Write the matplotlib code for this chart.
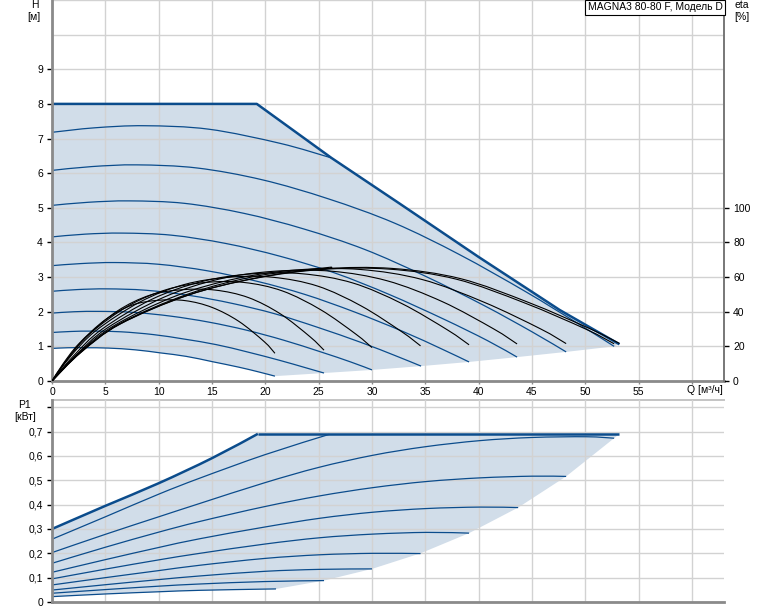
import matplotlib
matplotlib.use("Agg")
from matplotlib import pyplot as plt
from matplotlib.path import Path
from matplotlib.patches import PathPatch

plt.rcParams["font.family"] = ["Liberation Sans", "DejaVu Sans"]
plt.rcParams["font.size"] = 7.5

FIG_W, FIG_H = 774, 611  # pixels

BLUE = "#0b4c8c"
FILL = "#d1dde9"
GRID = "#d2d2d2"
SPINE = "#8a8a8a"

# ---------------- data ----------------
# Q-H: maximum curve (flat at 8 m, then power limit)
max_Q = [0, 19.2, 26.2, 32.6, 40.0, 47.6, 53.2]
max_H = [8.0, 8.0, 6.44, 5.12, 3.58, 2.05, 1.06]

# Q-H: constant speed curves, top to bottom
speed_Q = [
    [0, 4.0, 8.7, 14.7, 21.4, 26.2],
    [0, 3.7, 8.0, 13.6, 19.7, 25.9, 32.1, 38.2, 44.4, 49.3, 52.7],
    [0, 3.4, 7.3, 12.4, 18.0, 23.6, 29.3, 34.9, 40.5, 45.0, 48.2],
    [0, 3.1, 6.6, 11.2, 16.3, 21.4, 26.5, 31.6, 36.7, 40.8, 43.6],
    [0, 2.7, 5.9, 10.0, 14.6, 19.2, 23.7, 28.3, 32.9, 36.5, 39.1],
    [0, 2.4, 5.2, 8.8, 12.9, 16.9, 20.9, 24.9, 29.0, 32.2, 34.6],
    [0, 2.1, 4.55, 7.7, 11.2, 14.7, 18.2, 21.7, 25.2, 28.0, 30.0],
    [0, 1.8, 3.8, 6.5, 9.5, 12.4, 15.4, 18.3, 21.3, 23.7, 25.5],
    [0, 1.5, 3.2, 5.3, 7.8, 10.2, 12.6, 15.0, 17.5, 19.4, 20.9],
]
speed_H = [
    [7.18, 7.31, 7.37, 7.27, 6.86, 6.44],
    [6.08, 6.19, 6.24, 6.15, 5.81, 5.26, 4.56, 3.65, 2.58, 1.66, 1.0],
    [5.07, 5.16, 5.20, 5.13, 4.84, 4.39, 3.80, 3.04, 2.18, 1.42, 0.84],
    [4.16, 4.24, 4.27, 4.21, 3.97, 3.60, 3.12, 2.50, 1.79, 1.17, 0.69],
    [3.33, 3.39, 3.42, 3.37, 3.18, 2.88, 2.50, 2.00, 1.43, 0.93, 0.55],
    [2.59, 2.64, 2.66, 2.62, 2.47, 2.24, 1.94, 1.55, 1.11, 0.73, 0.43],
    [1.96, 2.00, 2.01, 1.98, 1.87, 1.70, 1.47, 1.18, 0.84, 0.55, 0.32],
    [1.40, 1.43, 1.44, 1.42, 1.34, 1.21, 1.05, 0.84, 0.60, 0.39, 0.23],
    [0.94, 0.96, 0.96, 0.95, 0.90, 0.81, 0.71, 0.56, 0.40, 0.26, 0.14],
]

# Q-H: lower edge of the operating area (ends of the speed curves)
low_Q = [20.9, 25.5, 30.0, 34.6, 39.1, 43.6, 48.2, 52.7, 53.2]
low_H = [0.14, 0.23, 0.32, 0.43, 0.55, 0.69, 0.84, 1.0, 1.06]

# efficiency curves [%]
eta_Q = [
    [0, 2.7, 6.4, 12.8, 19.2, 25.5, 31.9, 38.3, 44.7, 50.5, 53.2],
    [0, 2.7, 6.4, 12.8, 19.2, 25.5, 26.2],
    [0, 2.6, 6.3, 12.6, 19.0, 25.3, 31.6, 37.9, 44.3, 50.1, 52.7],
    [0, 2.4, 5.8, 11.6, 17.4, 23.1, 28.9, 34.7, 40.5, 45.8, 48.2],
    [0, 2.2, 5.2, 10.5, 15.7, 20.9, 26.2, 31.4, 36.6, 41.4, 43.6],
    [0, 2.0, 4.7, 9.4, 14.1, 18.8, 23.5, 28.2, 32.8, 37.1, 39.1],
    [0, 1.7, 4.1, 8.3, 12.4, 16.6, 20.7, 24.9, 29.0, 32.8, 34.55],
    [0, 1.5, 3.6, 7.2, 10.8, 14.4, 18.0, 21.6, 25.2, 28.5, 30.0],
    [0, 1.3, 3.1, 6.1, 9.2, 12.2, 15.3, 18.4, 21.4, 24.2, 25.5],
    [0, 1.0, 2.5, 5.0, 7.5, 10.0, 12.5, 15.0, 17.5, 19.9, 20.9],
]
eta_E = [
    [0, 16.4, 32.9, 49.6, 59.6, 64.8, 65.0, 59.1, 45.3, 30.0, 21.7],
    [0, 16.6, 33.3, 50.3, 60.6, 65.3, 65.5],
    [0, 16.3, 32.7, 49.3, 59.2, 64.4, 64.6, 58.8, 45.1, 29.8, 21.5],
    [0, 15.6, 31.9, 49.1, 59.3, 64.2, 64.4, 58.6, 45.5, 30.1, 21.6],
    [0, 14.7, 30.7, 48.4, 58.9, 63.4, 63.4, 57.9, 45.8, 30.1, 21.4],
    [0, 14.4, 30.0, 47.3, 57.5, 61.9, 61.9, 56.6, 44.7, 29.4, 20.9],
    [0, 13.9, 29.0, 45.8, 55.7, 59.9, 59.9, 54.8, 43.3, 28.4, 20.3],
    [0, 13.2, 27.6, 43.5, 52.9, 56.9, 56.9, 52.0, 41.1, 27.0, 19.3],
    [0, 11.4, 24.8, 40.3, 49.6, 52.7, 52.5, 48.2, 38.8, 25.5, 17.8],
    [0, 9.6, 21.4, 35.4, 43.8, 46.6, 46.4, 42.5, 34.5, 22.7, 16.0],
]

# Q-P1: maximum curve (rising part, then flat power limit)
pmax_Q = [0, 5, 10, 15, 19.3]
pmax_P = [0.300, 0.395, 0.488, 0.591, 0.691]
plim_Q = [19.3, 53.2]
plim_P = [0.691, 0.691]

# Q-P1: constant speed curves, top to bottom
power_Q = [
    [0, 5, 10, 13.86, 19.94, 26.0],
    [0, 5, 10, 13.86, 19.94, 25, 30.1, 35, 40.1, 45, 50.1, 52.7],
    [0, 5, 10, 13.86, 19.94, 25.1, 30.1, 35.1, 40.1, 45, 48.2],
    [0, 5, 10, 13.86, 19.94, 25.1, 30.1, 35.1, 40.1, 43.7],
    [0, 5, 10, 13.86, 19.94, 25.1, 30.1, 35.1, 39.1],
    [0, 5, 10, 13.86, 19.94, 25.1, 30.1, 34.55],
    [0, 5, 10, 13.86, 19.94, 25, 30],
    [0, 5, 10, 13.86, 19.94, 25.5],
    [0, 5, 10, 13.86, 19.94, 21.0],
]
power_P = [
    [0.258, 0.350, 0.443, 0.509, 0.605, 0.689],
    [0.203, 0.278, 0.35, 0.405, 0.49, 0.553, 0.603, 0.638, 0.663, 0.676, 0.679, 0.673],
    [0.159, 0.225, 0.287, 0.331, 0.392, 0.436, 0.47, 0.495, 0.51, 0.517, 0.516],
    [0.122, 0.174, 0.224, 0.26, 0.308, 0.344, 0.369, 0.384, 0.39, 0.388],
    [0.095, 0.135, 0.173, 0.2, 0.238, 0.264, 0.279, 0.286, 0.283],
    [0.070, 0.1, 0.129, 0.151, 0.179, 0.194, 0.2, 0.199],
    [0.049, 0.071, 0.092, 0.107, 0.126, 0.134, 0.136],
    [0.036, 0.051, 0.065, 0.074, 0.084, 0.088],
    [0.022, 0.033, 0.042, 0.048, 0.053, 0.0535],
]

# Q-P1: lower edge of the operating area
plow_Q = [21.0, 25.5, 30.0, 34.55, 39.1, 43.7, 48.2, 52.7, 53.2]
plow_P = [0.0535, 0.088, 0.136, 0.20, 0.283, 0.388, 0.516, 0.673, 0.691]

q_ticks = list(range(0, 61, 5))
q_labels = [str(v) for v in range(0, 56, 5)] + [""]
h_ticks = list(range(0, 10))
eta_ticks = [0, 20, 40, 60, 80, 100]
p_ticks = [0, 0.1, 0.2, 0.3, 0.4, 0.5, 0.6, 0.7, 0.8]
p_labels = ["0", "0,1", "0,2", "0,3", "0,4", "0,5", "0,6", "0,7", ""]


def fx(px):
    return px / FIG_W


def fy(py):
    return 1 - py / FIG_H


def smooth_path(xs, ys):
    # smooth curve through the read points (cubic Bezier segments)
    pts = list(zip(xs, ys))
    n = len(pts)
    verts = [pts[0]]
    codes = [Path.MOVETO]
    for i in range(n - 1):
        p0 = pts[i - 1] if i > 0 else pts[i]
        p1 = pts[i]
        p2 = pts[i + 1]
        p3 = pts[i + 2] if i + 2 < n else pts[i + 1]
        c1 = (p1[0] + (p2[0] - p0[0]) / 6, p1[1] + (p2[1] - p0[1]) / 6)
        c2 = (p2[0] - (p3[0] - p1[0]) / 6, p2[1] - (p3[1] - p1[1]) / 6)
        verts += [c1, c2, p2]
        codes += [Path.CURVE4] * 3
    return Path(verts, codes)


def smooth_line(ax, xs, ys, color, lw, zorder=3):
    patch = PathPatch(smooth_path(xs, ys), fill=False, edgecolor=color, lw=lw,
                      capstyle="butt", joinstyle="round", zorder=zorder)
    ax.add_patch(patch)


def style_axes(ax):
    ax.set_facecolor("white")
    ax.set_axisbelow(False)
    ax.grid(True, which="both", color=GRID, lw=1.0, zorder=1.5)
    for s in ["top", "right"]:
        ax.spines[s].set_visible(False)
    for s in ["left", "bottom"]:
        ax.spines[s].set_color(SPINE)
        ax.spines[s].set_linewidth(2.0)
        ax.spines[s].set_zorder(4)
    ax.tick_params(axis="y", direction="out", length=3.5, width=1, color="black",
                   pad=3, labelsize=7.5)
    ax.tick_params(axis="x", direction="out", length=2.5, width=1, color=SPINE,
                   pad=2, labelsize=7.5)


fig = plt.figure(figsize=(FIG_W / 100, FIG_H / 100), dpi=100)

# ---------------- top: Q-H and eta ----------------
ax = fig.add_axes([fx(52), fy(381), fx(724) - fx(52), fy(0) - fy(381)])
style_axes(ax)
ax.set_xlim(0, 63)
ax.set_ylim(0, 11)
ax.set_xticks(q_ticks)
ax.set_xticklabels(q_labels)
ax.set_yticks(h_ticks)
ax.set_yticks([10, 11], minor=True)
ax.tick_params(axis="y", which="minor", length=0)

poly_Q = max_Q + low_Q[::-1] + speed_Q[-1][::-1][1:]
poly_H = max_H + low_H[::-1] + speed_H[-1][::-1][1:]
ax.fill(poly_Q, poly_H, color=FILL, lw=0, zorder=1)

for q, h in zip(speed_Q, speed_H):
    smooth_line(ax, q, h, BLUE, 0.9)
ax.plot(max_Q, max_H, color=BLUE, lw=1.8, zorder=3.5, solid_capstyle="butt")

ax2 = ax.twinx()
ax2.set_ylim(0, 220)
ax2.set_yticks(eta_ticks)
for s in ["top", "left", "bottom"]:
    ax2.spines[s].set_visible(False)
ax2.spines["right"].set_color("#777777")
ax2.spines["right"].set_linewidth(1.4)
ax2.tick_params(axis="y", direction="out", length=3.5, width=1, color="black",
                pad=3, labelsize=7.5)
for q, e in zip(eta_Q, eta_E):
    smooth_line(ax2, q, e, "black", 0.8)

fig.text(fx(35), fy(5), "H", ha="center", va="center", fontsize=7.5)
fig.text(fx(34), fy(17.5), "[м]", ha="center", va="center", fontsize=7.5)
fig.text(fx(742), fy(5), "eta", ha="center", va="center", fontsize=7.5)
fig.text(fx(742), fy(17), "[%]", ha="center", va="center", fontsize=7.5)
fig.text(fx(687), fy(390), "Q [м³/ч]", ha="left", va="center", fontsize=7.5)
fig.text(fx(588), fy(7.5), "MAGNA3 80-80 F, Модель D", ha="left", va="center",
         fontsize=7.5,
         bbox=dict(boxstyle="square,pad=0.25", fc="white", ec="black", lw=0.8))

# ---------------- bottom: Q-P1 ----------------
bx = fig.add_axes([fx(52), fy(602), fx(724) - fx(52), fy(400) - fy(602)])
style_axes(bx)
bx.spines["top"].set_visible(True)
bx.spines["top"].set_color("#c4c4c4")
bx.spines["top"].set_linewidth(1.4)
bx.set_xlim(0, 63)
bx.set_ylim(0, 0.83)
bx.set_xticks(q_ticks)
bx.set_xticklabels([])
bx.tick_params(axis="x", length=0)
bx.set_yticks(p_ticks)
bx.set_yticklabels(p_labels)

ppoly_Q = pmax_Q + plim_Q[1:] + plow_Q[::-1] + power_Q[-1][::-1][1:]
ppoly_P = pmax_P + plim_P[1:] + plow_P[::-1] + power_P[-1][::-1][1:]
bx.fill(ppoly_Q, ppoly_P, color=FILL, lw=0, zorder=1)
for q, p in zip(power_Q, power_P):
    smooth_line(bx, q, p, BLUE, 0.9)
smooth_line(bx, pmax_Q, pmax_P, BLUE, 1.8, zorder=3.5)
bx.plot(plim_Q, plim_P, color=BLUE, lw=1.8, zorder=3.5, solid_capstyle="butt")

fig.text(fx(25), fy(405), "P1", ha="center", va="center", fontsize=7.5)
fig.text(fx(25), fy(417), "[кВт]", ha="center", va="center", fontsize=7.5)

fig.savefig("out.png", dpi=100)
